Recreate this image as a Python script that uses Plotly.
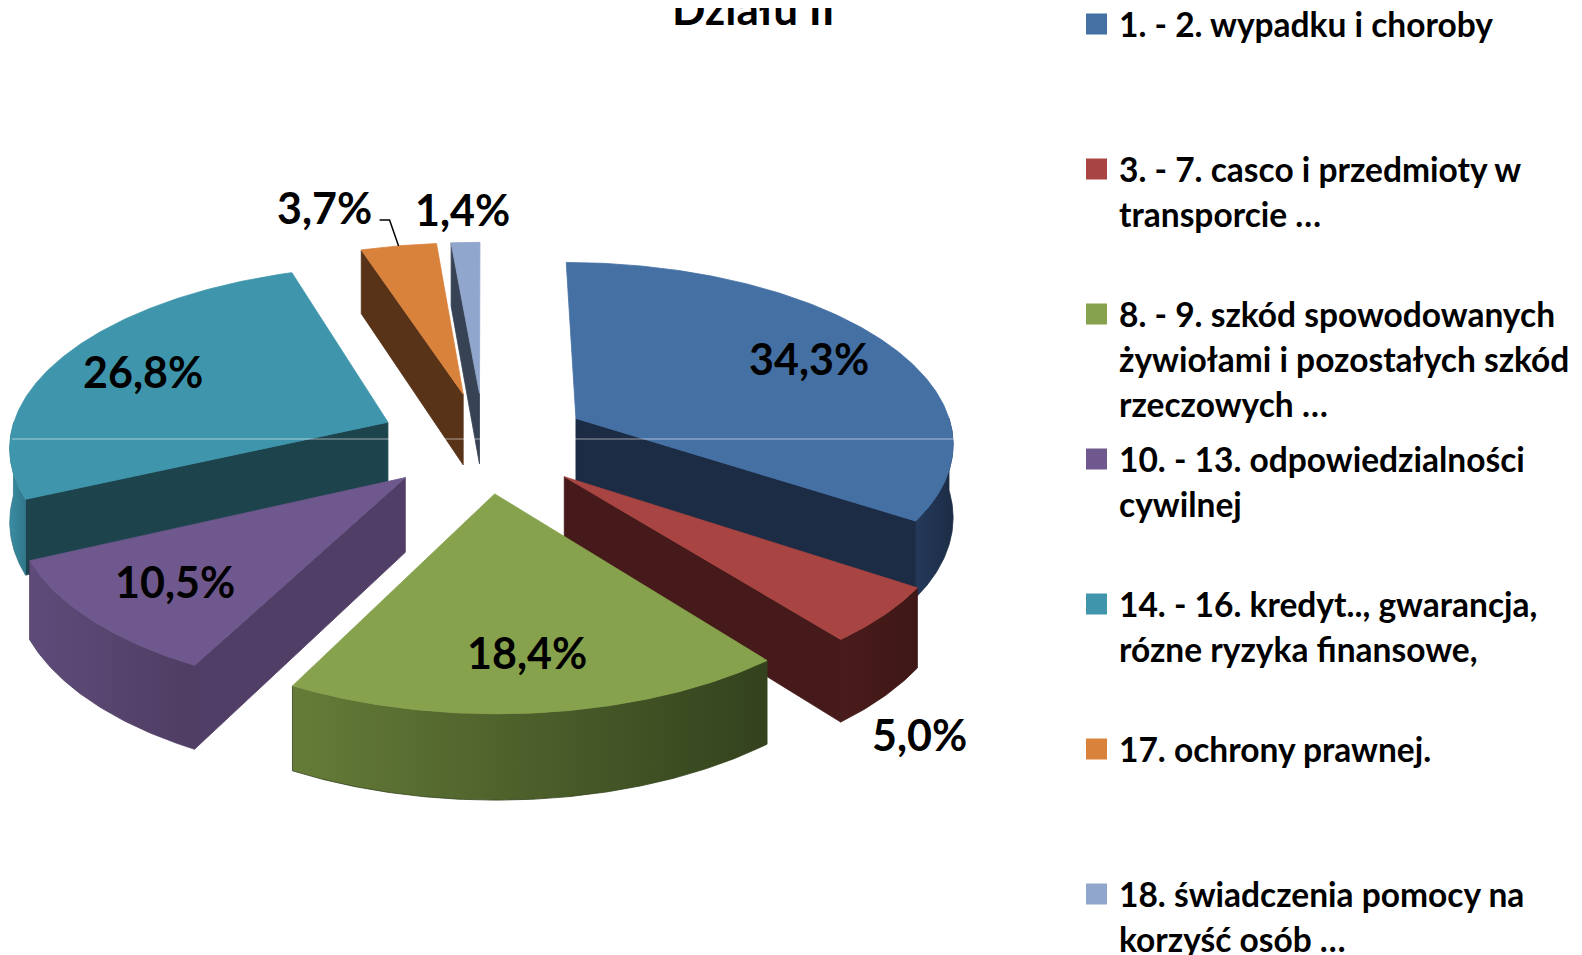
import textwrap
import numpy as np
import plotly.graph_objects as go

# ---------------- data ----------------
categories = [
    "1. - 2. wypadku i choroby",
    "3. - 7. casco i przedmioty w transporcie …",
    "8. - 9. szkód spowodowanych żywiołami i pozostałych szkód rzeczowych …",
    "10. - 13. odpowiedzialności cywilnej",
    "14. - 16. kredyt.., gwarancja, rózne ryzyka finansowe,",
    "17. ochrony prawnej.",
    "18. świadczenia pomocy na korzyść osób …",
]
values = [34.3, 5.0, 18.4, 10.5, 26.8, 3.7, 1.4]
title_text = "Działu II"

# ---------------- styles ----------------
top_colors = ["#4470A4", "#A84441", "#87A24C", "#6E588D", "#3F95AC", "#D9823C", "#91A6CC"]
side_colors = ["#1C2C45", "#461A1A", "#4E6129", "#513E66", "#1D434D", "#583318", "#374354"]
rim_colors = [("#24395A", "#1C2C45"), ("#4A1C1B", "#3E1716"), ("#657C38", "#33421D"),
              ("#5F4B7A", "#4F3D63"), ("#3A8CA2", "#307789"), ("#7A4722", "#583318"),
              ("#4A566C", "#374354")]
label_placement = ["in", "out", "in", "in", "in", "leader", "above"]

FONT = "Lato, 'Open Sans', 'DejaVu Sans', sans-serif"
W, H = 1582, 955
OFF = 8  # page body margin compensation
CX, CY = 484, 442
RX, RY = 379, 180
DEPTH = 73
PERSP = 0.12
EXPLODE = 0.28


def project(u, w, z):
    s = 1.0 / (1.0 + PERSP * w)
    return CX + RX * u * s, CY - RY * w * s + DEPTH * z * s


fig = go.Figure()


def add_poly(pts, color=None, grad=None):
    xs = [p[0] for p in pts] + [pts[0][0]]
    ys = [p[1] for p in pts] + [pts[0][1]]
    kw = dict(x=xs, y=ys, mode="lines", fill="toself", hoverinfo="skip",
              showlegend=False, line=dict(width=0.8, color=color if color else grad[1]))
    if grad:
        kw["fillgradient"] = dict(type="horizontal", colorscale=[[0, grad[0]], [1, grad[1]]])
    else:
        kw["fillcolor"] = color
    fig.add_trace(go.Scatter(**kw))


total = float(sum(values))
bounds = np.concatenate([[0.0], np.cumsum(values)]) / total * 2 * np.pi
n = len(values)
mids = [(bounds[i] + bounds[i + 1]) / 2 for i in range(n)]
offs = [(EXPLODE * np.sin(m), EXPLODE * np.cos(m)) for m in mids]

order = sorted(range(n), key=lambda i: -np.cos(mids[i]))
for i in order:
    t0, t1 = bounds[i], bounds[i + 1]
    ou, ow = offs[i]

    def P(r, t, z):
        return project(ou + r * np.sin(t), ow + r * np.cos(t), z)

    # radial walls
    for t, vis in ((t0, np.sin(t0) < -1e-9), (t1, np.sin(t1) > 1e-9)):
        if vis:
            add_poly([P(0, t, 0), P(1, t, 0), P(1, t, 1), P(0, t, 1)], color=side_colors[i])
    # outer rim
    a, b = max(t0, np.pi / 2), min(t1, 3 * np.pi / 2)
    if b > a:
        ts = np.linspace(a, b, max(3, int((b - a) / 0.01)))
        pts = [P(1, t, 0) for t in ts] + [P(1, t, 1) for t in ts[::-1]]
        add_poly(pts, grad=rim_colors[i])
    # top face
    ts = np.linspace(t0, t1, max(3, int((t1 - t0) / 0.01)))
    pts = [P(0, t0, 0)] + [P(1, t, 0) for t in ts]
    add_poly(pts, color=top_colors[i])

annotations = []
shapes = []


def fmt(v):
    return f"{v:.1f}".replace(".", ",") + "%"


for i in range(n):
    ou, ow = offs[i]
    m = mids[i]
    kind = label_placement[i]
    lab = dict(text=f"<b>{fmt(values[i])}</b>", showarrow=False, xref="x", yref="y",
               font=dict(family=FONT, size=43, color="#000000"))
    if kind == "in":
        x, y = project(ou + 0.75 * np.sin(m), ow + 0.75 * np.cos(m), 0)
        lab.update(x=x, y=y, xanchor="center", yanchor="middle")
    elif kind == "out":
        x, y = project(ou + 1.1 * np.sin(m), ow + 1.1 * np.cos(m), 1)
        lab.update(x=x, y=y + 22, xanchor="center", yanchor="middle")
    elif kind == "above":
        x, y = project(ou + 1.25 * np.sin(m), ow + 1.25 * np.cos(m), 0)
        lab.update(x=x, y=y, xanchor="center", yanchor="middle")
    else:  # leader
        ex, ey = project(ou + np.sin(m), ow + np.cos(m), 0)
        lab.update(x=ex - 25, y=ey - 38, xanchor="right", yanchor="middle")
        shapes.append(dict(type="path", xref="x", yref="y",
                           path=f"M {ex-19},{ey-26} L {ex-9},{ey-26} L {ex},{ey}",
                           line=dict(color="#000000", width=1.5)))
    annotations.append(lab)

# faint horizontal rendering line across the chart
shapes.append(dict(type="line", xref="x", yref="y", x0=12, x1=957, y0=439, y1=439,
                   line=dict(color="rgba(255,255,255,0.55)", width=1), layer="above"))

# title (cut at the top edge)
annotations.append(dict(text=f"<b>{title_text}</b>", x=753, y=36, xref="x", yref="y",
                        xanchor="center", yanchor="bottom", showarrow=False,
                        font=dict(family=FONT, size=44, color="#000000")))

# legend
LEG_X, LEG_Y0, LEG_STEP, LINE_STEP = 1086, 24, 145, 45
for i, name in enumerate(categories):
    y0 = LEG_Y0 + LEG_STEP * i
    shapes.append(dict(type="rect", xref="x", yref="y", x0=LEG_X, x1=LEG_X + 21,
                       y0=y0 - 10.5, y1=y0 + 10.5, fillcolor=top_colors[i], line=dict(width=0)))
    for j, line in enumerate(textwrap.wrap(name, width=30, break_on_hyphens=False)):
        annotations.append(dict(text=f"<b>{line}</b>", x=LEG_X + 31, y=y0 + LINE_STEP * j,
                                xref="x", yref="y", xanchor="left", yanchor="middle",
                                showarrow=False,
                                font=dict(family=FONT, size=33.5, color="#000000")))

fig.update_layout(
    width=W, height=H, autosize=False,
    margin=dict(l=0, r=0, t=0, b=0),
    paper_bgcolor="white", plot_bgcolor="white",
    xaxis=dict(range=[OFF, W + OFF], visible=False, fixedrange=True),
    yaxis=dict(range=[H + OFF, OFF], visible=False, fixedrange=True),
    annotations=annotations, shapes=shapes, showlegend=False,
)
fig.write_html("out.html")
